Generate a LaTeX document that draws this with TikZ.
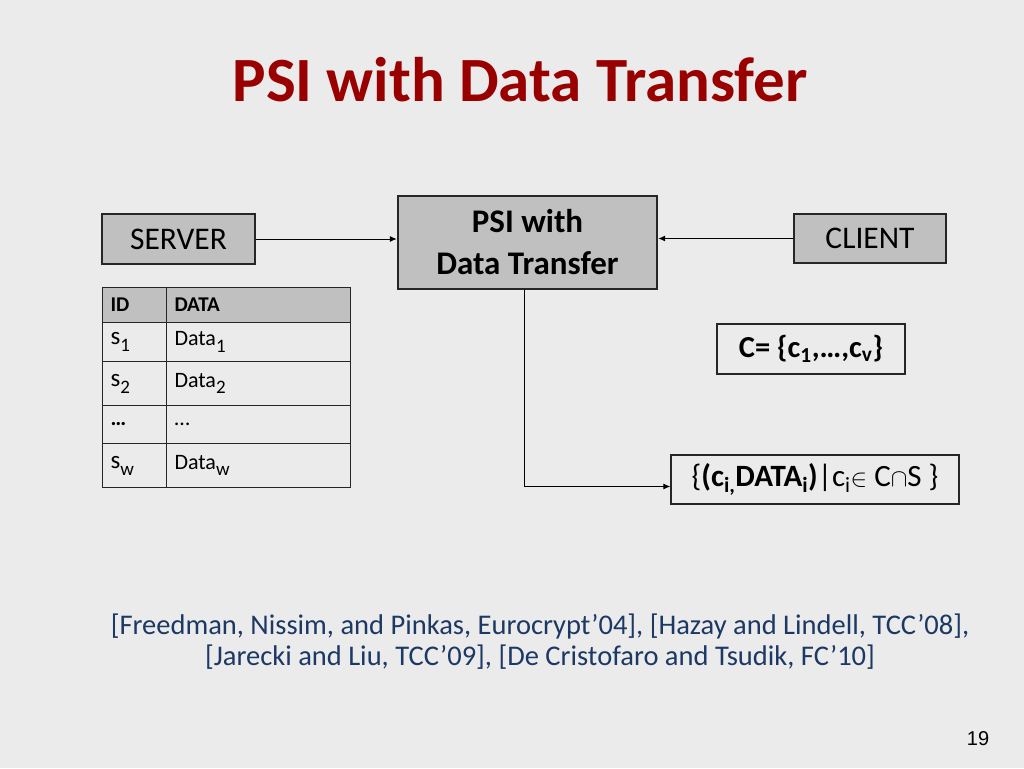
\documentclass[tikz,border=0pt]{standalone}
\usepackage{fontspec}
\setmainfont{Carlito}
\newfontfamily\arialfont{Liberation Sans}
\usepackage{tikz}
\usetikzlibrary{arrows.meta,positioning}
\usepackage{xcolor}
\definecolor{slidebg}{RGB}{235,235,235}
\definecolor{titlered}{RGB}{153,0,0}
\definecolor{boxgray}{RGB}{192,192,192}
\definecolor{citeblue}{RGB}{28,56,100}
\newcommand{\tabsub}[1]{\raisebox{-0.28em}{\fontsize{19}{20}\selectfont #1}}

\tikzset{
  graybox/.style={draw=black!85, fill=boxgray, line width=1.2pt, inner sep=0pt},
  plainbox/.style={draw=black!85, line width=1.2pt, inner sep=0pt},
  cell/.style={draw=black!85, line width=1pt, anchor=north west, inner xsep=8pt, inner ysep=0pt, align=left},
  flow/.style={-{Latex[length=7pt,width=6pt]}, line width=1pt},
}

\begin{document}
\begin{tikzpicture}[x=1pt, y=-1pt]
\fill[slidebg] (0,0) rectangle (1024,768);
\useasboundingbox (0,0) rectangle (1024,768);

% title
\node (title) at (520,80) {\fontsize{63}{70}\selectfont\bfseries\color{titlered} PSI with Data Transfer};

% parties and functionality
\node[graybox, minimum width=153pt, minimum height=50pt] (server) at (178.5,239) {\fontsize{31.5}{34}\selectfont SERVER};
\node[graybox, line width=2.4pt, minimum width=259pt, minimum height=93pt, align=center,
  font={\fontsize{33}{42}\selectfont\bfseries}] (psi) at (527.5,242.5) {PSI with\\ Data Transfer};
\node[graybox, minimum width=152pt, minimum height=49pt] (client) at (870,238.5) {\fontsize{31.5}{34}\selectfont CLIENT};

% server table
\node[cell, fill=boxgray, minimum height=35pt, text width=48pt] (id0) at (102,287) {\fontsize{21}{24}\selectfont\bfseries ID};
\node[cell, fill=boxgray, minimum height=35pt, text width=168pt] (data0) at (166,287) {\fontsize{21}{24}\selectfont\bfseries DATA};
\node[cell, minimum height=39pt, text width=48pt] (id1) at (102,322) {\fontsize{25}{28}\selectfont s\tabsub{1}};
\node[cell, minimum height=39pt, text width=168pt] (data1) at (166,322) {\fontsize{22}{25}\selectfont Data\tabsub{1}};
\node[cell, minimum height=44pt, text width=48pt] (id2) at (102,361) {\fontsize{25}{28}\selectfont s\tabsub{2}};
\node[cell, minimum height=44pt, text width=168pt] (data2) at (166,361) {\fontsize{22}{25}\selectfont Data\tabsub{2}};
\node[cell, minimum height=38pt, text width=48pt] (id3) at (102,405) {\fontsize{22}{25}\selectfont\bfseries \dots};
\node[cell, minimum height=38pt, text width=168pt] (data3) at (166,405) {\fontsize{22}{25}\selectfont \dots};
\node[cell, minimum height=44pt, text width=48pt] (id4) at (102,443) {\fontsize{25}{28}\selectfont s\tabsub{w}};
\node[cell, minimum height=44pt, text width=168pt] (data4) at (166,443) {\fontsize{22}{25}\selectfont Data\tabsub{w}};

% client set and output
\node[plainbox, minimum width=188pt, minimum height=50pt] (cset) at (811,349)
  {\fontsize{30.5}{34}\selectfont\bfseries C= \{c\textsubscript{1},\dots,c\textsubscript{v}\}};
\node[plainbox, minimum width=288pt, minimum height=49pt] (result) at (815,479.5)
  {\fontsize{31}{34}\selectfont \{\textbf{(c\textsubscript{i,}DATA\textsubscript{i})}|c\textsubscript{i}$\in$ C$\cap$S \}};

% connectors
\draw[flow] (server.east) -- (server.east -| psi.west);
\draw[flow] (client.west) -- (client.west -| psi.east);
\draw[flow] ([xshift=-3.5pt]psi.south) |- ([yshift=-7pt]result.west);

% references
\node[align=center, text=citeblue, font={\fontsize{28.5}{31}\selectfont}] (refs) at (540,642)
  {[Freedman, Nissim, and Pinkas, Eurocrypt'04], [Hazay and Lindell, TCC'08],\\{}%
   [Jarecki and Liu, TCC'09], [De Cristofaro and Tsudik, FC'10]};

\node (pagenum) at (978,739) {\arialfont\fontsize{20}{22}\selectfont 19};
\end{tikzpicture}
\end{document}
